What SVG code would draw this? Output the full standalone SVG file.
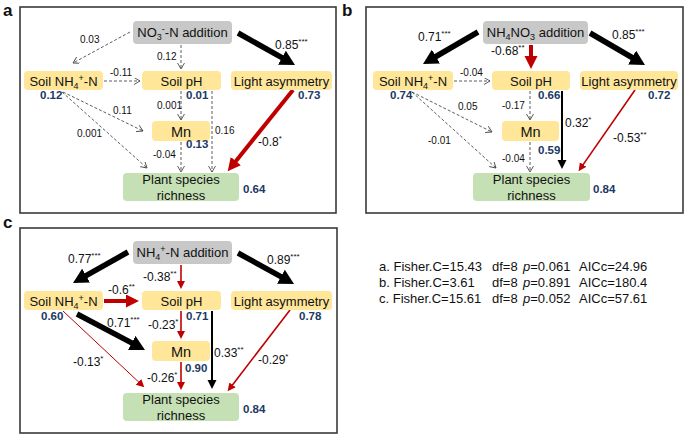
<svg xmlns="http://www.w3.org/2000/svg" width="685" height="435" viewBox="0 0 685 435">
<style>
text{font-family:"Liberation Sans",Arial,sans-serif;fill:#111}
.frame{fill:none;stroke:#3a3a3a;stroke-width:1.6}
.ny{fill:#FFE699}
.ng{fill:#C8C8C8}
.ngr{fill:#C5E0B4}
.nt{font-size:13px;text-anchor:middle}
.mn{font-size:14.5px;text-anchor:middle}
.pl{font-size:17px;font-weight:bold}
.l{font-size:10px}
.s{font-size:12px}
.v{font-size:11.5px;font-weight:bold;fill:#203864}
.st{font-size:13px}
.d{fill:none;stroke:#333;stroke-width:0.8;stroke-dasharray:3 2;marker-end:url(#ho)}
.kb{fill:none;stroke:#000;stroke-width:5.5;marker-end:url(#hb)}
.kr{fill:none;stroke:#C00000;stroke-width:4;marker-end:url(#hr)}
.tb{fill:none;stroke:#000;stroke-width:2;marker-end:url(#hbs)}
.tr{fill:none;stroke:#C00000;stroke-width:1.6;marker-end:url(#hrs)}
.tr1{fill:none;stroke:#C00000;stroke-width:1;marker-end:url(#hrs)}
</style>
<defs>
<marker id="hb" markerUnits="userSpaceOnUse" markerWidth="16" markerHeight="16" refX="1" refY="8" orient="auto"><path d="M0,0 L15,8 L0,16 z" fill="#000"/></marker>
<marker id="hr" markerUnits="userSpaceOnUse" markerWidth="14" markerHeight="14" refX="1" refY="6.5" orient="auto"><path d="M0,0 L13,6.5 L0,13 z" fill="#C00000"/></marker>
<marker id="hbs" markerUnits="userSpaceOnUse" markerWidth="10" markerHeight="10" refX="1" refY="4.5" orient="auto"><path d="M0,0 L9,4.5 L0,9 z" fill="#000"/></marker>
<marker id="hrs" markerUnits="userSpaceOnUse" markerWidth="10" markerHeight="10" refX="1" refY="4" orient="auto"><path d="M0,0 L8,4 L0,8 z" fill="#C00000"/></marker>
<marker id="ho" markerUnits="userSpaceOnUse" markerWidth="8" markerHeight="8" refX="6" refY="3.5" orient="auto"><path d="M0,0 L6,3.5 L0,7" fill="none" stroke="#333" stroke-width="0.8"/></marker>
</defs>

<!-- panel frames and letters -->
<rect class="frame" x="20" y="7" width="316" height="206"/>
<rect class="frame" x="366" y="7" width="317" height="206"/>
<rect class="frame" x="20" y="228" width="317" height="205"/>
<text class="pl" x="3" y="16">a</text>
<text class="pl" x="342" y="16">b</text>
<text class="pl" x="3" y="228">c</text>

<!-- ===== Panel a ===== -->
<g id="connectors-a">
<line class="d" x1="130" y1="32" x2="73" y2="63"/>
<line class="d" x1="181" y1="45" x2="181" y2="69"/>
<line class="kb" x1="238" y1="33" x2="282.8" y2="58.2"/>
<line class="d" x1="104" y1="81" x2="140" y2="81"/>
<line class="d" x1="63" y1="92" x2="143" y2="131"/>
<line class="d" x1="62" y1="92" x2="147" y2="168"/>
<line class="d" x1="181" y1="91" x2="181" y2="120"/>
<line class="d" x1="212" y1="91" x2="212" y2="172"/>
<line class="d" x1="181" y1="142" x2="181" y2="172"/>
<line class="kr" x1="293" y1="90" x2="235.2" y2="161.9"/>
<text class="l" x="80" y="43">0.03</text>
<text class="l" x="157" y="60">0.12</text>
<text class="s" x="275" y="49">0.85<tspan font-size="8" dy="-5">***</tspan></text>
<text class="l" x="110" y="76">-0.11</text>
<text class="l" x="113" y="114">0.11</text>
<text class="l" x="77" y="137">0.001</text>
<text class="l" x="157" y="109">0.001</text>
<text class="l" x="215" y="134">0.16</text>
<text class="l" x="153" y="158">-0.04</text>
<text class="s" x="258" y="146">-0.8<tspan font-size="8" dy="-5">*</tspan></text>
</g>
<g id="a-add"><rect class="ng" x="133" y="21" width="99" height="23" rx="4"/><text class="nt" x="182.5" y="37">NO<tspan font-size="9" dy="3">3</tspan><tspan font-size="9" dy="-8">-</tspan><tspan dy="5">-N addition</tspan></text></g>
<g id="a-nh4"><rect class="ny" x="24" y="71" width="79" height="19" rx="4"/><text class="nt" x="63.5" y="85.5">Soil NH<tspan font-size="9" dy="3">4</tspan><tspan font-size="9" dy="-8">+</tspan><tspan dy="5">-N</tspan></text><text class="v" x="40" y="99">0.12</text></g>
<g id="a-ph"><rect class="ny" x="142" y="71" width="79" height="19" rx="4"/><text class="nt" x="181.5" y="85.5">Soil pH</text><text class="v" x="186" y="99">0.01</text></g>
<g id="a-light"><rect class="ny" x="231" y="71" width="101" height="19" rx="4"/><text class="nt" x="281.5" y="85.5">Light asymmetry</text><text class="v" x="298" y="99">0.73</text></g>
<g id="a-mn"><rect class="ny" x="152" y="121" width="58" height="20" rx="4"/><text class="mn" x="181" y="136.5">Mn</text><text class="v" x="186" y="148">0.13</text></g>
<g id="a-plant"><rect class="ngr" x="123" y="173" width="116" height="28" rx="4"/><text class="nt" x="181" y="184">Plant species</text><text class="nt" x="181" y="199.5">richness</text><text class="v" x="243" y="193">0.64</text></g>

<!-- ===== Panel b ===== -->
<g id="connectors-b">
<line class="kb" x1="478" y1="32" x2="435.1" y2="57"/>
<line class="kr" x1="531" y1="45" x2="531" y2="57"/>
<line class="kb" x1="590" y1="33" x2="632.9" y2="58"/>
<line class="d" x1="454" y1="81" x2="490" y2="81"/>
<line class="d" x1="412" y1="92" x2="492" y2="132"/>
<line class="d" x1="412" y1="92" x2="496" y2="168"/>
<line class="d" x1="530" y1="91" x2="530" y2="120"/>
<line class="tb" x1="562" y1="91" x2="562" y2="161"/>
<line class="d" x1="530" y1="142" x2="530" y2="172"/>
<line class="tr" x1="635" y1="90" x2="582.6" y2="165.4"/>
<text class="s" x="418" y="41">0.71<tspan font-size="8" dy="-5">***</tspan></text>
<text class="s" x="491" y="55">-0.68<tspan font-size="8" dy="-5">**</tspan></text>
<text class="s" x="612" y="39">0.85<tspan font-size="8" dy="-5">***</tspan></text>
<text class="l" x="460" y="76">-0.04</text>
<text class="l" x="458" y="110">0.05</text>
<text class="l" x="428" y="144">-0.01</text>
<text class="l" x="502" y="109">-0.17</text>
<text class="s" x="565" y="127">0.32<tspan font-size="8" dy="-5">*</tspan></text>
<text class="l" x="502" y="162">-0.04</text>
<text class="s" x="613" y="142">-0.53<tspan font-size="8" dy="-5">**</tspan></text>
</g>
<g id="b-add"><rect class="ng" x="483" y="21" width="105" height="23" rx="4"/><text class="nt" x="535.5" y="37">NH<tspan font-size="9" dy="3">4</tspan><tspan dy="-3">NO</tspan><tspan font-size="9" dy="3">3</tspan><tspan dy="-3"> addition</tspan></text></g>
<g id="b-nh4"><rect class="ny" x="373" y="71" width="80" height="19" rx="4"/><text class="nt" x="413" y="85.5">Soil NH<tspan font-size="9" dy="3">4</tspan><tspan font-size="9" dy="-8">+</tspan><tspan dy="5">-N</tspan></text><text class="v" x="390" y="99">0.74</text></g>
<g id="b-ph"><rect class="ny" x="492" y="71" width="78" height="19" rx="4"/><text class="nt" x="531" y="85.5">Soil pH</text><text class="v" x="538" y="99">0.66</text></g>
<g id="b-light"><rect class="ny" x="580" y="71" width="98" height="19" rx="4"/><text class="nt" x="629" y="85.5">Light asymmetry</text><text class="v" x="648" y="99">0.72</text></g>
<g id="b-mn"><rect class="ny" x="502" y="121" width="57" height="20" rx="4"/><text class="mn" x="530.5" y="136.5">Mn</text><text class="v" x="538" y="154">0.59</text></g>
<g id="b-plant"><rect class="ngr" x="473" y="173" width="117" height="28" rx="4"/><text class="nt" x="531.5" y="184">Plant species</text><text class="nt" x="531.5" y="199.5">richness</text><text class="v" x="593" y="193">0.84</text></g>

<!-- ===== Panel c ===== -->
<g id="connectors-c">
<line class="kb" x1="128" y1="252" x2="85.2" y2="276.1"/>
<line class="tr" x1="181" y1="265" x2="181" y2="282"/>
<line class="kb" x1="238" y1="253" x2="281.8" y2="277.2"/>
<line class="kr" x1="104" y1="301" x2="127" y2="301"/>
<line class="kb" x1="77" y1="314" x2="132.6" y2="343.4"/>
<line class="tr1" x1="63" y1="311" x2="139.2" y2="382.5"/>
<line class="tr" x1="181" y1="311" x2="181" y2="332"/>
<line class="tb" x1="212" y1="311" x2="212" y2="381"/>
<line class="tr" x1="181" y1="362" x2="181" y2="383"/>
<line class="tr" x1="290" y1="310" x2="231.9" y2="385.7"/>
<text class="s" x="68" y="263">0.77<tspan font-size="8" dy="-5">***</tspan></text>
<text class="s" x="143" y="281">-0.38<tspan font-size="8" dy="-5">**</tspan></text>
<text class="s" x="267" y="264">0.89<tspan font-size="8" dy="-5">***</tspan></text>
<text class="s" x="108" y="294">-0.6<tspan font-size="8" dy="-5">**</tspan></text>
<text class="s" x="107" y="327">0.71<tspan font-size="8" dy="-5">***</tspan></text>
<text class="s" x="73" y="366">-0.13<tspan font-size="8" dy="-5">*</tspan></text>
<text class="s" x="148" y="329">-0.23<tspan font-size="8" dy="-5">*</tspan></text>
<text class="s" x="214" y="357">0.33<tspan font-size="8" dy="-5">**</tspan></text>
<text class="s" x="147" y="382">-0.26<tspan font-size="8" dy="-5">*</tspan></text>
<text class="s" x="258" y="364">-0.29<tspan font-size="8" dy="-5">*</tspan></text>
</g>
<g id="c-add"><rect class="ng" x="133" y="241" width="99" height="23" rx="4"/><text class="nt" x="182.5" y="257">NH<tspan font-size="9" dy="3">4</tspan><tspan font-size="9" dy="-8">+</tspan><tspan dy="5">-N addition</tspan></text></g>
<g id="c-nh4"><rect class="ny" x="24" y="291" width="79" height="19" rx="4"/><text class="nt" x="63.5" y="305.5">Soil NH<tspan font-size="9" dy="3">4</tspan><tspan font-size="9" dy="-8">+</tspan><tspan dy="5">-N</tspan></text><text class="v" x="41" y="320">0.60</text></g>
<g id="c-ph"><rect class="ny" x="142" y="291" width="79" height="19" rx="4"/><text class="nt" x="181.5" y="305.5">Soil pH</text><text class="v" x="186" y="320">0.71</text></g>
<g id="c-light"><rect class="ny" x="231" y="291" width="101" height="19" rx="4"/><text class="nt" x="281.5" y="305.5">Light asymmetry</text><text class="v" x="299" y="320">0.78</text></g>
<g id="c-mn"><rect class="ny" x="152" y="341" width="58" height="20" rx="4"/><text class="mn" x="181" y="356.5">Mn</text><text class="v" x="185" y="372">0.90</text></g>
<g id="c-plant"><rect class="ngr" x="123" y="393" width="116" height="28" rx="4"/><text class="nt" x="181" y="404">Plant species</text><text class="nt" x="181" y="419.5">richness</text><text class="v" x="243" y="413">0.84</text></g>

<!-- stats -->
<g id="stats">
<text class="st" x="379" y="271">a. Fisher.C=15.43</text><text class="st" x="492" y="271">df=8</text><text class="st" x="523" y="271"><tspan font-style="italic">p</tspan>=0.061</text><text class="st" x="579" y="271">AICc=24.96</text>
<text class="st" x="379" y="287">b. Fisher.C=3.61</text><text class="st" x="492" y="287">df=8</text><text class="st" x="523" y="287"><tspan font-style="italic">p</tspan>=0.891</text><text class="st" x="579" y="287">AICc=180.4</text>
<text class="st" x="379" y="303">c. Fisher.C=15.61</text><text class="st" x="492" y="303">df=8</text><text class="st" x="523" y="303"><tspan font-style="italic">p</tspan>=0.052</text><text class="st" x="579" y="303">AICc=57.61</text>
</g>
</svg>
